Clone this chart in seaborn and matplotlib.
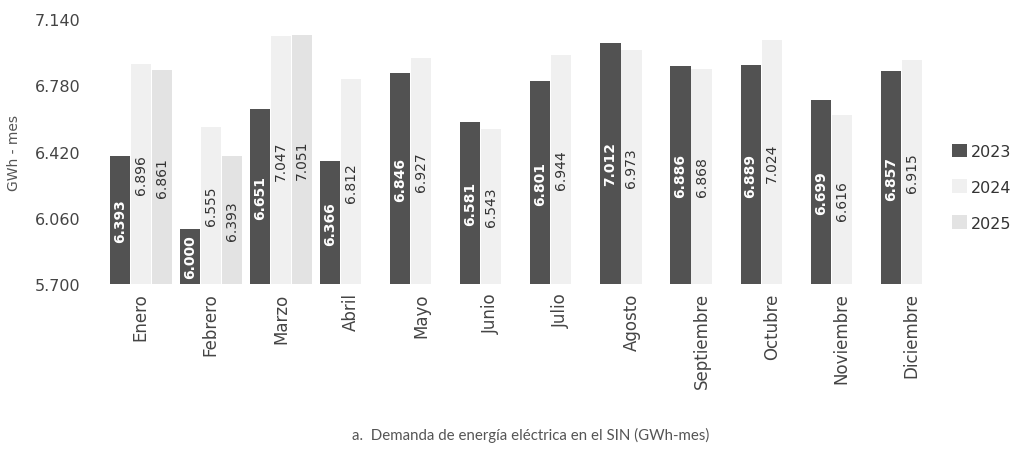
import numpy as np
import pandas as pd
import matplotlib
matplotlib.use("Agg")
import matplotlib.pyplot as plt
import seaborn as sns

# datos (GWh-mes)
meses = ["Enero", "Febrero", "Marzo", "Abril", "Mayo", "Junio", "Julio",
         "Agosto", "Septiembre", "Octubre", "Noviembre", "Diciembre"]
anios = ["2023", "2024", "2025"]
dem_2023 = [6.393, 6.000, 6.651, 6.366, 6.846, 6.581, 6.801, 7.012, 6.886, 6.889, 6.699, 6.857]
dem_2024 = [6.896, 6.555, 7.047, 6.812, 6.927, 6.543, 6.944, 6.973, 6.868, 7.024, 6.616, 6.915]
dem_2025 = [6.861, 6.393, 7.051] + [np.nan] * 9
y_ticks = [5.700, 6.060, 6.420, 6.780, 7.140]

df = pd.DataFrame({
    "mes": meses * 3,
    "anio": [a for a in anios for _ in meses],
    "valor": dem_2023 + dem_2024 + dem_2025,
}).dropna()

sns.set_theme(style="white")
plt.rcParams["font.family"] = ["DejaVu Sans"]

fig = plt.figure(figsize=(10.16, 4.56), dpi=100)
ax = fig.add_axes([0.104, 0.375, 0.828, 0.581])

palette = {"2023": "#525252", "2024": "#f0f0f0", "2025": "#e3e3e3"}
sns.barplot(data=df, x="mes", y="valor", hue="anio", order=meses, hue_order=anios,
            palette=palette, width=0.9, gap=0.04, errorbar=None, ax=ax,
            linewidth=0, saturation=1)

ymin = y_ticks[0]
ax.set_ylim(ymin, y_ticks[-1])
ax.set_yticks(y_ticks)
ax.set_yticklabels([f"{t:.3f}" for t in y_ticks])

# etiquetas centradas en la parte visible de cada barra
for i, cont in enumerate(ax.containers):
    for p in cont:
        h = p.get_height()
        if np.isnan(h):
            continue
        xc = p.get_x() + p.get_width() / 2
        yc = (ymin + h) / 2
        if i == 0:
            ax.text(xc, yc, f"{h:.3f}", rotation=90, ha="center", va="center",
                    fontsize=10, fontweight="bold", color="white")
        else:
            ax.text(xc, yc, f"{h:.3f}", rotation=90, ha="center", va="center",
                    fontsize=10, color="#333333")

for s in ax.spines.values():
    s.set_visible(False)
ax.tick_params(axis="y", length=0, pad=18, labelsize=11.5, labelcolor="#444444")
ax.tick_params(axis="x", length=0, pad=6, labelsize=12, labelcolor="#444444", rotation=90)
ax.set_xlabel("")
ax.set_ylabel("GWh - mes", fontsize=10, color="#555555", labelpad=10)

ax.legend(title=None, frameon=False, loc="center left", bbox_to_anchor=(0.995, 0.366),
          handlelength=0.9, handleheight=0.9, handletextpad=0.25, labelspacing=1.3,
          fontsize=11.5, labelcolor="#333333", borderaxespad=0.2)

fig.text(0.522, 1 - 435 / 456, "a.  Demanda de energía eléctrica en el SIN (GWh-mes)",
         ha="center", va="center", fontsize=10.8, color="#555555", family=["Lato", "DejaVu Sans"])

fig.savefig("out.png", dpi=100)
